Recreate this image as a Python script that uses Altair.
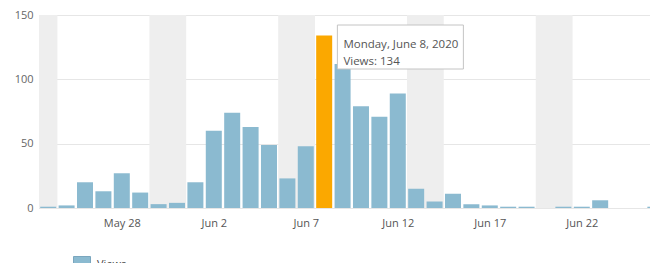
import altair as alt
import pandas as pd

days = [
    "2020-05-24", "2020-05-25", "2020-05-26", "2020-05-27", "2020-05-28",
    "2020-05-29", "2020-05-30", "2020-05-31", "2020-06-01", "2020-06-02",
    "2020-06-03", "2020-06-04", "2020-06-05", "2020-06-06", "2020-06-07",
    "2020-06-08", "2020-06-09", "2020-06-10", "2020-06-11", "2020-06-12",
    "2020-06-13", "2020-06-14", "2020-06-15", "2020-06-16", "2020-06-17",
    "2020-06-18", "2020-06-19", "2020-06-20", "2020-06-21", "2020-06-22",
    "2020-06-23", "2020-06-24", "2020-06-25", "2020-06-26",
]
views = [1, 2, 20, 13, 27, 12, 3, 4, 20, 60, 74, 63, 49, 23, 48, 134, 112,
         79, 71, 89, 15, 5, 11, 3, 2, 1, 1, 0, 1, 1, 6, 0, 0, 1]
# weekend shading: Saturday start, Monday start
weekend_start = ["2020-05-23", "2020-05-30", "2020-06-06", "2020-06-13", "2020-06-20"]
weekend_end = ["2020-05-25", "2020-06-01", "2020-06-08", "2020-06-15", "2020-06-22"]
highlight_day = "2020-06-08"
tick_days = [(5, 28), (6, 2), (6, 7), (6, 12), (6, 17), (6, 22)]
y_ticks = [0, 50, 100, 150]

BLUE = "#8bbad0"
ORANGE = "#fba800"
FONT = "Open Sans"

df = pd.DataFrame({"day": [d + "T00:00:00" for d in days], "views": views,
                   "series": "Views"})
wk = pd.DataFrame({"s": [d + "T00:00:00" for d in weekend_start],
                   "e": [d + "T00:00:00" for d in weekend_end]})
tip = df[df["day"] == highlight_day + "T00:00:00"]

W, H = 611, 193

xscale = alt.Scale(
    domain=[alt.DateTime(year=2020, month=5, date=24, hours=0),
            alt.DateTime(year=2020, month=6, date=26, hours=5, minutes=0)],
    nice=False,
)
xaxis = alt.Axis(
    values=[alt.DateTime(year=2020, month=m, date=d, hours=12) for m, d in tick_days],
    format="%b %-d", title=None, domain=False, ticks=False, grid=False,
    labelFont=FONT, labelFontSize=11, labelColor="#555555", labelPadding=9,
    labelFlush=False, labelOverlap=False,
)


def X(field):
    return alt.X(field, type="temporal", scale=xscale, axis=xaxis, title=None)


bands = alt.Chart(wk).mark_rect(color="#eeeeee", clip=True).encode(
    x=X("s"), x2="e:T", y=alt.value(0), y2=alt.value(H)
)

bars = alt.Chart(df).transform_calculate(
    bs="time(toDate(datum.day)) + 0.065 * 864e5",
    be="time(toDate(datum.day)) + 0.935 * 864e5",
).mark_rect(clip=True).encode(
    x=X("bs"),
    x2="be:T",
    y=alt.Y("views:Q", scale=alt.Scale(domain=[0, 150], nice=False),
            axis=alt.Axis(values=y_ticks, title=None, domain=False, ticks=False,
                          grid=True, gridColor="#e6e6e6", labelFont=FONT,
                          labelFontSize=11, labelColor="#666666", labelPadding=6)),
    y2=alt.datum(0),
    color=alt.condition(
        f"datum.day == '{highlight_day}T00:00:00'",
        alt.value(ORANGE),
        alt.Color("series:N", scale=alt.Scale(domain=["Views"], range=[BLUE]),
                  legend=alt.Legend(orient="none", legendX=34, legendY=241,
                                    title=None, symbolType="square",
                                    symbolSize=289, symbolStrokeColor="#7aa6be",
                                    symbolStrokeWidth=1, padding=0,
                                    labelOffset=6,
                                    labelFont=FONT, labelFontSize=11,
                                    labelColor="#444444")),
    ),
)

tip_base = alt.Chart(tip).transform_calculate(
    e="time(toDate(datum.day)) + 864e5",
    line1="timeFormat(toDate(datum.day), '%A, %B %-d, %Y')",
    line2="'Views: ' + datum.views",
)
tip_box = tip_base.mark_rect(fill="white", stroke="#c4c4c4", strokeWidth=1,
                             xOffset=4, x2Offset=130).encode(
    x=X("e"), x2="e:T", y=alt.value(10), y2=alt.value(54)
)
tip_t1 = tip_base.mark_text(align="left", dx=10, font=FONT, fontSize=11.5,
                            color="#555555").encode(
    x=X("e"), y=alt.value(30), text="line1:N"
)
tip_t2 = tip_base.mark_text(align="left", dx=10, font=FONT, fontSize=11.5,
                            color="#555555").encode(
    x=X("e"), y=alt.value(47), text="line2:N"
)

chart = alt.layer(bands, bars, tip_box, tip_t1, tip_t2).properties(
    width=W, height=H,
    autosize=alt.AutoSizeParams(type="none"),
    padding={"left": 31, "top": 7, "right": 0, "bottom": 55},
).configure_view(stroke=None).configure(font=FONT)

chart.save("out.html", embed_options={"renderer": "svg", "actions": False})
